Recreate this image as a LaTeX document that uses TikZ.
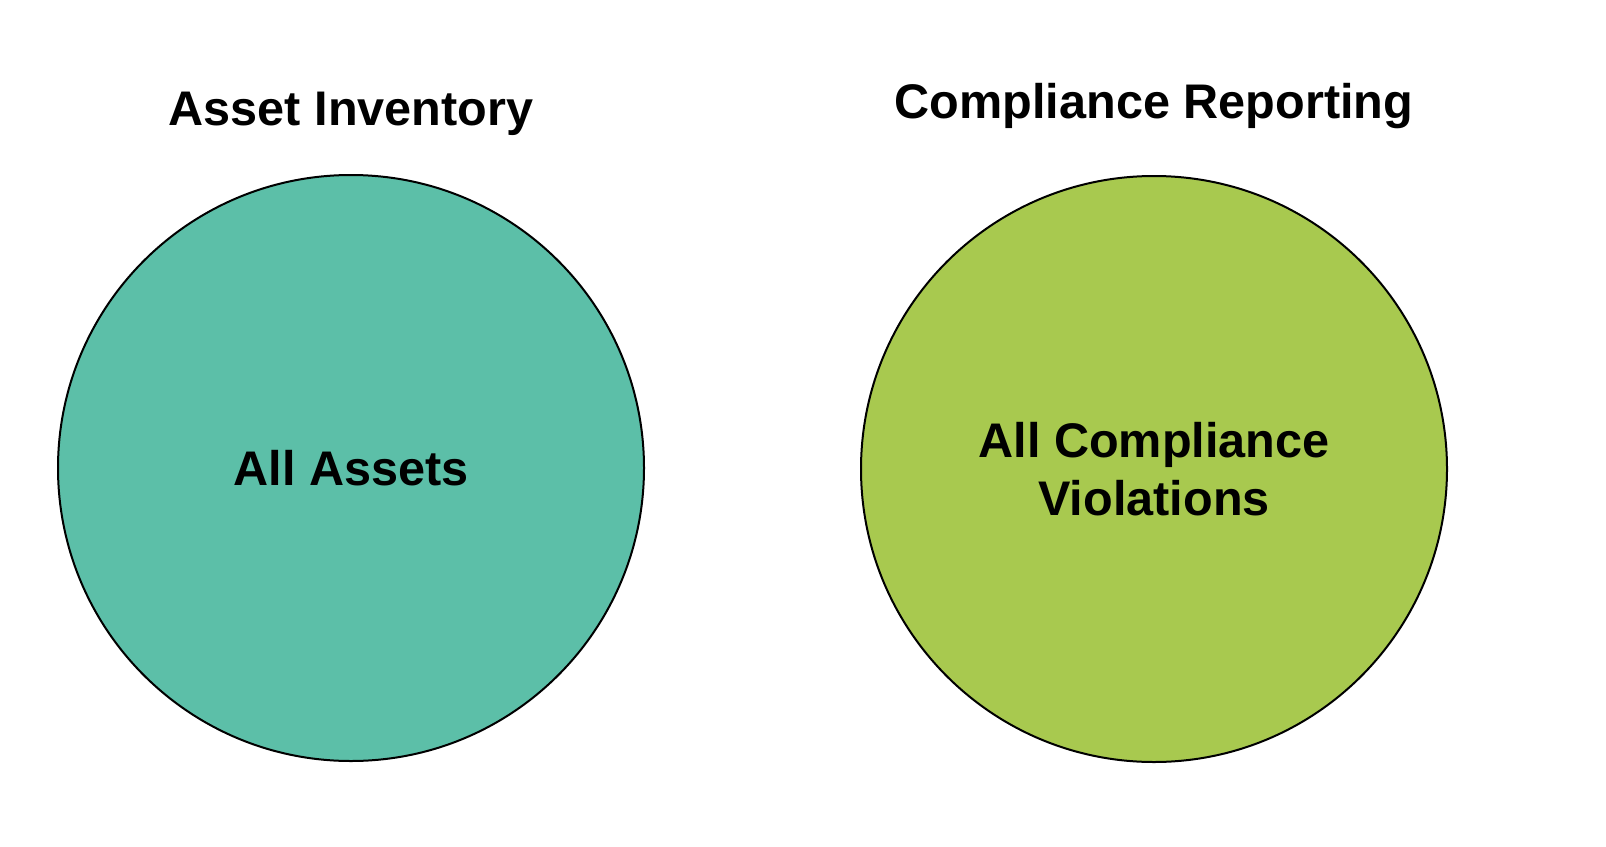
\documentclass[tikz,border=0pt]{standalone}
\usepackage{fontspec}
\setmainfont{Liberation Sans}
\definecolor{assetteal}{HTML}{5CBFA8}
\definecolor{violgreen}{HTML}{A8C94F}
\tikzset{
  setcircle/.style={circle, draw=black, line width=1pt, minimum size=293pt, inner sep=0pt},
  settitle/.style={font=\fontsize{24.3}{28}\selectfont\bfseries, anchor=base},
  setlabel/.style={font=\fontsize{24.3}{29}\selectfont\bfseries, align=center}
}
\begin{document}
\begin{tikzpicture}[x=0.5pt, y=-0.5pt]
  \useasboundingbox (0,0) rectangle (1606,846);
  \node[setcircle, fill=assetteal] (assets) at (351,468) {};
  \node[setcircle, fill=violgreen] (viols) at (1154,469) {};
  \node[settitle] (invtitle) at (351,125) {Asset Inventory};
  \node[settitle] (reptitle) at (1154,118) {Compliance Reporting};
  \node[setlabel] (assetstext) at (assets) {All Assets};
  \node[setlabel] (violstext) at (viols) {All Compliance\\Violations};
\end{tikzpicture}
\end{document}
